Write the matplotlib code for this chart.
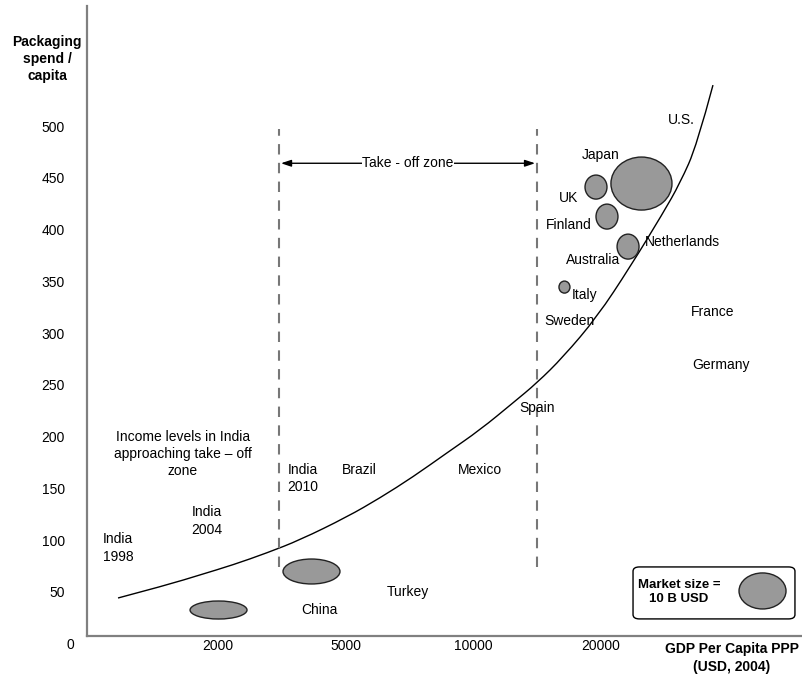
# Packaging spend per capita vs GDP per capita - take-off zone chart
import matplotlib.pyplot as plt
from matplotlib.patches import Ellipse, FancyBboxPatch, PathPatch
from matplotlib.path import Path

plt.rcParams['font.family'] = ['Liberation Sans', 'DejaVu Sans']

# Axis ticks
spend_ticks = [50, 100, 150, 200, 250, 300, 350, 400, 450, 500]
gdp_labels = ['2000', '5000', '10000', '20000']
gdp_pos = [1, 2, 3, 4]  # GDP ticks are evenly spaced on the axis

# Trend curve (x in GDP tick units, y in spend / capita)
curve_x = [0.217, 0.601, 0.859, 1.117, 1.384, 1.642, 2.010, 2.269, 2.527,
           2.793, 3.052, 3.310, 3.498, 3.702, 3.968, 4.226, 4.485, 4.618,
           4.751, 4.876]
curve_y = [44.2, 56.8, 66.5, 76.2, 87.8, 100.3, 122.5, 140.9, 161.2,
           184.4, 206.6, 232.7, 252.0, 276.9, 315.6, 363.8, 416.0, 445.0,
           481.7, 539.6]

# Market size bubbles (centre, width in GDP tick units, height in spend units)
bubble_x = [1.004, 1.732, 4.316, 3.960, 4.046, 4.211, 3.713]
bubble_y = [32.6, 69.8, 444.5, 441.1, 412.6, 383.6, 344.5]
bubble_w = [0.446, 0.446, 0.478, 0.172, 0.172, 0.172, 0.086]
bubble_h = [17.4, 24.1, 51.2, 23.2, 24.1, 24.1, 11.6]

# Country labels
country_names = ['India\n1998', 'India\n2004', 'India\n2010', 'Brazil', 'Mexico',
                 'Turkey', 'China', 'Spain', 'Sweden', 'Italy', 'Australia',
                 'Netherlands', 'Finland', 'UK', 'Japan', 'U.S.', 'France',
                 'Germany']
country_x = [0.217, 0.914, 1.666, 2.104, 3.052, 2.488, 1.791, 3.498, 3.749,
             3.874, 3.937, 4.634, 3.749, 3.749, 3.999, 4.626, 4.876, 4.939]
country_y = [92.5, 118.6, 159.8, 167.8, 167.8, 50.0, 32.6, 227.7, 311.7,
             336.8, 370.6, 388.0, 404.4, 430.5, 472.0, 505.8, 320.4, 269.3]

# Take-off zone boundaries
zone_x = [1.478, 3.498]
zone_y = [74.2, 497.0]

fig = plt.figure(figsize=(8.03, 6.78), dpi=100)
ax = fig.add_axes([87 / 803, 42 / 678, 716 / 803, 630 / 678])
ax.set_xlim(-0.026, 5.581)
ax.set_ylim(7.5, 616)

for side in ['top', 'right']:
    ax.spines[side].set_visible(False)
for side in ['left', 'bottom']:
    ax.spines[side].set_color('#808080')
    ax.spines[side].set_linewidth(1.6)

ax.set_yticks(spend_ticks)
ax.set_yticklabels([str(v) for v in spend_ticks], fontsize=10)
ax.set_xticks(gdp_pos)
ax.set_xticklabels(gdp_labels, fontsize=10)
ax.tick_params(axis='y', length=0, pad=16)
ax.tick_params(axis='x', length=0, pad=2)
ax.text(-0.159, -1.2, '0', fontsize=10, ha='center', va='center', clip_on=False)

# Axis titles
ax.text(-0.339, 565.0, 'Packaging\nspend /\ncapita', fontsize=10, fontweight='bold',
        ha='center', va='center', linespacing=1.3, clip_on=False)
ax.text(5.025, -13.7, 'GDP Per Capita PPP\n(USD, 2004)', fontsize=10, fontweight='bold',
        ha='center', va='center', linespacing=1.3, clip_on=False)

# Trend curve, drawn as a smooth path through the read points
verts = [(curve_x[0], curve_y[0])]
codes = [Path.MOVETO]
for i in range(1, len(curve_x) - 1):
    mx = (curve_x[i] + curve_x[i + 1]) / 2
    my = (curve_y[i] + curve_y[i + 1]) / 2
    if i == len(curve_x) - 2:
        mx, my = curve_x[i + 1], curve_y[i + 1]
    verts += [(curve_x[i], curve_y[i]), (mx, my)]
    codes += [Path.CURVE3, Path.CURVE3]
ax.add_patch(PathPatch(Path(verts, codes), facecolor='none', edgecolor='black',
                       linewidth=1.0))

# Take-off zone
for zx in zone_x:
    ax.plot([zx, zx], zone_y, color='#777777', linestyle=(0, (5, 4)), linewidth=1.5)
ax.annotate('', xy=(zone_x[0] + 0.015, 464.1), xytext=(zone_x[1] - 0.015, 464.1),
            arrowprops=dict(arrowstyle='<|-|>,head_length=0.6,head_width=0.2',
                            color='black', lw=1.0, shrinkA=0, shrinkB=0))
ax.text(2.488, 464.1, 'Take - off zone', fontsize=10, ha='center', va='center',
        bbox=dict(facecolor='white', edgecolor='none', pad=0.5))

ax.text(0.726, 183.3, 'Income levels in India\napproaching take \u2013 off\nzone',
        fontsize=10, ha='center', va='center', linespacing=1.3)

# Bubbles
for bx, by, bw, bh in zip(bubble_x, bubble_y, bubble_w, bubble_h):
    ax.add_patch(Ellipse((bx, by), bw, bh, facecolor='#999999',
                         edgecolor='#222222', linewidth=1.0, zorder=3))

for name, cx, cy in zip(country_names, country_x, country_y):
    ax.text(cx, cy, name, fontsize=10, ha='center', va='center', zorder=4,
            linespacing=1.3)

# Market size legend
ax.add_patch(FancyBboxPatch((4.25, 24.0), 1.268, 50.2,
                            boxstyle='round,pad=0,rounding_size=0.05',
                            mutation_aspect=1 / 0.012,
                            facecolor='white', edgecolor='black', linewidth=1.0, zorder=2))
ax.text(4.61, 50.0, 'Market size =\n10 B USD', fontsize=9.5, fontweight='bold',
        ha='center', va='center', zorder=4, linespacing=1.3)
ax.add_patch(Ellipse((5.264, 51.0), 0.368, 34.8, facecolor='#999999',
                     edgecolor='#222222', linewidth=1.0, zorder=3))

plt.savefig('out.png', dpi=100)
